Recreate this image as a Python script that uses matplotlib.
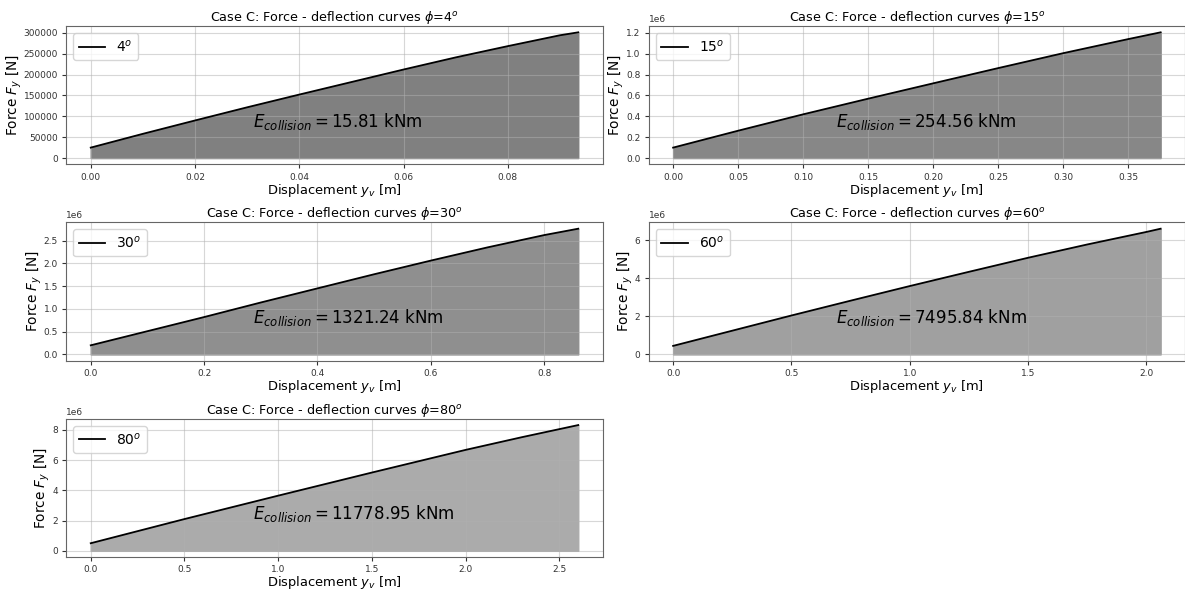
import numpy as np
import matplotlib
matplotlib.use('Agg')
import matplotlib.pyplot as plt

# collision angles and energies (kNm)
angles = [4, 15, 30, 60, 80]
energies = [15.81, 254.56, 1321.24, 7495.84, 11778.95]

# displacement y_v [m] and force F_y [N] per case
disp_4 = [0.0, 0.01, 0.02, 0.03, 0.04, 0.05, 0.06, 0.07, 0.08, 0.09, 0.0935]
force_4 = [25000, 58000, 90000, 121500, 152000, 182000, 212000, 241000, 268000, 294000, 301000]

disp_15 = [0.0, 0.05, 0.10, 0.15, 0.20, 0.25, 0.30, 0.35, 0.375]
force_15 = [0.10e6, 0.262e6, 0.419e6, 0.569e6, 0.716e6, 0.862e6, 1.005e6, 1.14e6, 1.205e6]

disp_30 = [0.0, 0.1, 0.2, 0.3, 0.4, 0.5, 0.6, 0.7, 0.8, 0.86]
force_30 = [0.20e6, 0.51e6, 0.82e6, 1.14e6, 1.45e6, 1.76e6, 2.06e6, 2.35e6, 2.62e6, 2.76e6]

disp_60 = [0.0, 0.25, 0.5, 0.75, 1.0, 1.25, 1.5, 1.75, 2.0, 2.06]
force_60 = [0.45e6, 1.25e6, 2.05e6, 2.83e6, 3.60e6, 4.35e6, 5.09e6, 5.79e6, 6.45e6, 6.62e6]

disp_80 = [0.0, 0.5, 1.0, 1.5, 2.0, 2.3, 2.6]
force_80 = [0.50e6, 2.10e6, 3.65e6, 5.18e6, 6.68e6, 7.52e6, 8.32e6]

disps = [disp_4, disp_15, disp_30, disp_60, disp_80]
forces = [force_4, force_15, force_30, force_60, force_80]
fill_colors = ['#808080', '#878787', '#8f8f8f', '#a0a0a0', '#ababab']

fig, axes = plt.subplots(3, 2, figsize=(11.85, 5.92), dpi=100)
fig.subplots_adjust(left=0.056, right=1.0, top=0.956, bottom=0.059, wspace=0.086, hspace=0.42)
axes = axes.flatten()

for i, ax in enumerate(axes[:5]):
  x = np.array(disps[i])
  y = np.array(forces[i])
  ax.fill_between(x, 0, y, color=fill_colors[i], zorder=1)
  ax.plot(x, y, color='k', lw=1.3, label=r'$%d^o$' % angles[i], zorder=2)
  ax.grid(True, alpha=0.5)
  ax.set_title(r'Case C: Force - deflection curves $\phi$=%d$^o$' % angles[i], fontsize=9.2, pad=3)
  ax.set_xlabel(r'Displacement $y_v$ [m]', fontsize=9.4, labelpad=0)
  ax.set_ylabel(r'Force $F_y$ [N]', fontsize=9.8, labelpad=0)
  ax.tick_params(labelsize=6.5, colors='#333333', length=3, pad=3)
  ax.yaxis.get_offset_text().set_fontsize(6.5)
  for s in ax.spines.values():
    s.set_color('#666666')
  ax.legend(loc='upper left', fontsize=10, handlelength=1.9)
  ax.text(x.max() / 3, y.max() / 4, r'$E_{collision} = $' + '%.2f kNm' % energies[i], fontsize=12, zorder=3)

axes[5].axis('off')

plt.savefig('out.png', dpi=100)
